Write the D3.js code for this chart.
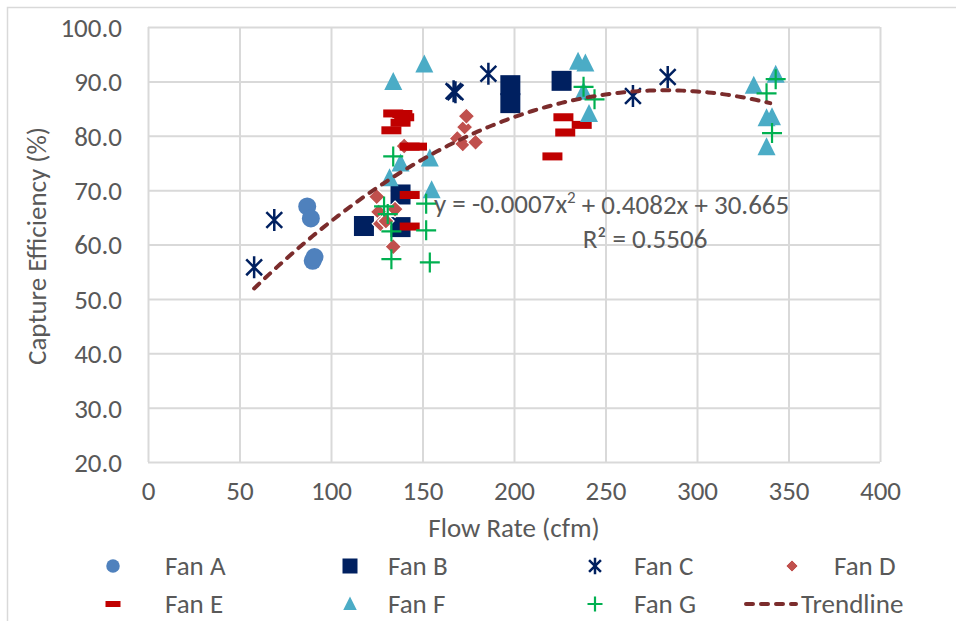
<!DOCTYPE html>
<html>
<head>
<meta charset="utf-8">
<script src="https://cdn.jsdelivr.net/npm/d3@7"></script>
<style>
  body { margin: 0; background: #fff; }
  text { font-family: Carlito, Calibri, Lato, "Open Sans", sans-serif; fill: #595959; }
</style>
</head>
<body>
<div id="chart"></div>
<script>
// flow rate (cfm), capture efficiency (%)
const fanA = [[87, 67.0], [89, 64.8], [90, 57.0], [91, 57.7]];
const fanB = [[118, 63.4], [138, 69.2], [138, 63.2], [198, 89.3], [198, 86.0], [226, 90.1]];
const fanC = [[58, 55.8], [69, 64.5], [167, 88.2], [168, 88.0], [186, 91.4], [265, 87.3], [284, 90.8]];
const fanD = [[125, 68.8], [126, 66.0], [127, 63.8], [130, 64.3], [135, 66.5], [134, 59.6],
              [140, 78.1], [169, 79.5], [172, 78.5], [173, 81.6], [174, 83.6], [179, 78.8]];
const fanE = [[134, 84.1], [139, 84.0], [140, 83.4], [138, 82.4], [133, 81.0], [143, 78.0], [147, 78.0],
              [143, 69.1], [143, 63.3], [227, 83.4], [237, 82.0], [228, 80.6], [221, 76.2]];
const fanF = [[134, 89.9], [151, 93.1], [132, 72.2], [138, 74.9], [154, 75.8], [155, 70.0],
              [235, 93.6], [239, 93.3], [238, 88.1], [241, 84.0],
              [331, 89.2], [343, 91.2], [338, 83.2], [341, 83.4], [338, 77.9]];
const fanG = [[134, 76.2], [129, 67.0], [131, 65.6], [133, 62.4], [133, 57.3], [152, 67.5], [152, 62.6],
              [154, 56.7], [238, 89.0], [244, 86.7], [343, 90.4], [338, 87.8], [341, 80.5]];

const seriesNames = ["Fan A", "Fan B", "Fan C", "Fan D", "Fan E", "Fan F", "Fan G"];
const xTicks = [0, 50, 100, 150, 200, 250, 300, 350, 400];
const yTicks = [20, 30, 40, 50, 60, 70, 80, 90, 100];
const trendCoef = [-0.000722, 0.4082, 30.665]; // x^2, x, const
const trendRange = [58, 340];
const eqText = ["y = -0.0007x", "2", " + 0.4082x + 30.665"];
const r2Text = "R² = 0.5506";

const W = 956, H = 621;
const FS = 27;
const svg = d3.select("#chart").append("svg")
    .attr("width", W).attr("height", H);

// chart border
svg.append("rect")
    .attr("x", 7.5).attr("y", 7.5)
    .attr("width", W).attr("height", H)
    .attr("fill", "none").attr("stroke", "#d9d9d9").attr("stroke-width", 1.5);

const x = d3.scaleLinear().domain([0, 400]).range([148, 880]);
const y = d3.scaleLinear().domain([20, 100]).range([462, 27]);

// grid + axes
const xAxis = svg.append("g")
    .attr("transform", `translate(0, ${y(20)})`)
    .call(d3.axisBottom(x).tickValues(xTicks).tickSize(-(y(20) - y(100))).tickPadding(26));
const yAxis = svg.append("g")
    .attr("transform", `translate(${x(0)}, 0)`)
    .call(d3.axisLeft(y).tickValues(yTicks).tickFormat(d3.format(".1f"))
        .tickSize(-(x(400) - x(0))).tickPadding(26));
[xAxis, yAxis].forEach(g => {
    g.select(".domain").remove();
    g.selectAll("line").attr("stroke", "#d9d9d9").attr("stroke-width", 2);
    g.selectAll("text").attr("font-size", FS).attr("fill", "#595959")
        .style("font-family", "Carlito, Calibri, Lato, sans-serif");
});
xAxis.selectAll("text").attr("dy", "0.45em");
yAxis.selectAll("text").attr("dy", "0.35em");

// axis titles
svg.append("text")
    .attr("x", 514).attr("y", 528).attr("dy", "0.35em")
    .attr("text-anchor", "middle").attr("font-size", FS)
    .text("Flow Rate (cfm)");
svg.append("text")
    .attr("transform", "translate(37, 246) rotate(-90)")
    .attr("dy", "0.35em")
    .attr("text-anchor", "middle").attr("font-size", FS)
    .text("Capture Efficiency (%)");

// marker drawers: (selection, size scale)
function starPath(r) {
    const d = r * 0.72;
    return `M0,${-r}L0,${r}M${-d},${-d}L${d},${d}M${-d},${d}L${d},${-d}`;
}
function plusPath(r) {
    return `M0,${-r}L0,${r}M${-r},0L${r},0`;
}
const markers = [
    (g, s) => g.append("circle").attr("r", 9 * s).attr("fill", "#4f81bd"),
    (g, s) => g.append("rect").attr("x", -10 * s).attr("y", -10 * s)
        .attr("width", 20 * s).attr("height", 20 * s).attr("fill", "#002060"),
    (g, s) => g.append("path").attr("d", starPath(11 * s)).attr("fill", "none")
        .attr("stroke", "#002060").attr("stroke-width", 2.5),
    (g, s) => g.append("path").attr("d", d3.symbol(d3.symbolDiamond2, 170 * s * s)())
        .attr("fill", "#c0504d").attr("stroke", "#fff").attr("stroke-width", 1.2 * s),
    (g, s) => g.append("rect").attr("x", -10 * s).attr("y", -4 * s)
        .attr("width", 20 * s).attr("height", 8 * s).attr("fill", "#c00000"),
    (g, s) => g.append("path").attr("d", `M0,${-10 * s}L${9 * s},${8 * s}L${-9 * s},${8 * s}Z`)
        .attr("fill", "#4bacc6"),
    (g, s) => g.append("path").attr("d", plusPath(10 * s)).attr("fill", "none")
        .attr("stroke", "#00b050").attr("stroke-width", 2.2)
];

const allSeries = [fanA, fanB, fanC, fanD, fanE, fanF, fanG];
allSeries.forEach((data, i) => {
    svg.append("g").selectAll("g")
        .data(data)
        .join("g")
        .attr("transform", d => `translate(${x(d[0])}, ${y(d[1])})`)
        .each(function() { markers[i](d3.select(this), 1); });
});

// polynomial trendline
const trendX = d3.range(trendRange[0], trendRange[1] + 0.01, 2);
const trendLine = d3.line()
    .x(d => x(d))
    .y(d => y(trendCoef[0] * d * d + trendCoef[1] * d + trendCoef[2]));
svg.append("path")
    .datum(trendX)
    .attr("d", trendLine)
    .attr("fill", "none")
    .attr("stroke", "#7b2c2c")
    .attr("stroke-width", 4)
    .attr("stroke-linecap", "round")
    .attr("stroke-dasharray", "7,8");

// equation label
const eq = svg.append("text")
    .attr("x", 434).attr("y", 204).attr("dy", "0.35em")
    .attr("font-size", FS);
eq.append("tspan").text(eqText[0]);
eq.append("tspan").attr("font-size", 17).attr("dy", "-0.6em").text(eqText[1]);
eq.append("tspan").attr("dy", "0.4em").text(eqText[2]);
svg.append("text")
    .attr("x", 645).attr("y", 239).attr("dy", "0.35em")
    .attr("text-anchor", "middle").attr("font-size", FS)
    .text(r2Text);

// legend
const legMarkX = [113, 350, 595, 792];
const legTextX = [165, 388, 634, 834];
const legY = [566, 604];
const legend = svg.append("g");
seriesNames.concat(["Trendline"]).forEach((name, i) => {
    const col = i % 4, row = Math.floor(i / 4);
    const g = legend.append("g").attr("transform", `translate(0, ${legY[row]})`);
    if (i < 7) {
        markers[i](g.append("g").attr("transform", `translate(${legMarkX[col]}, 0)`), 0.75);
        g.append("text").attr("x", legTextX[col]).attr("dy", "0.35em").attr("font-size", FS).text(name);
    } else {
        g.append("line").attr("x1", 746).attr("x2", 796)
            .attr("stroke", "#7b2c2c").attr("stroke-width", 4)
            .attr("stroke-linecap", "round").attr("stroke-dasharray", "7,8");
        g.append("text").attr("x", 801).attr("dy", "0.35em").attr("font-size", FS).text(name);
    }
});
</script>
</body>
</html>
